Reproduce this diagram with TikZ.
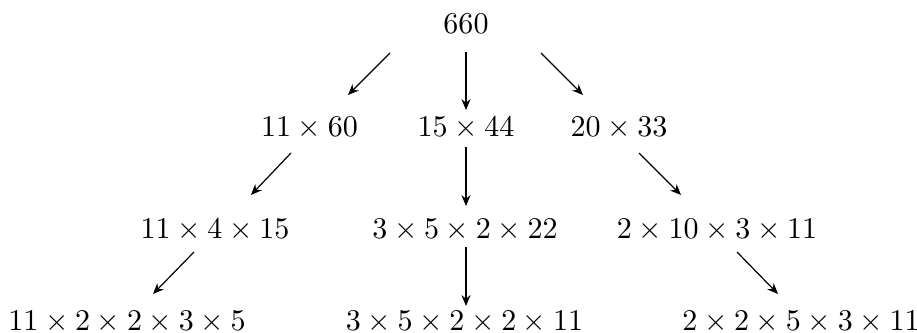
\documentclass[tikz,border=0pt]{standalone}
\usetikzlibrary{arrows.meta}
\begin{document}
\begin{tikzpicture}[x=0.3326pt,y=-0.3326pt,
  lbl/.style={anchor=base,inner sep=0pt,outer sep=0pt},
  arr/.style={-{Stealth[length=3.6pt,width=3pt]},line width=0.4pt}]
\useasboundingbox (0,0) rectangle (917,333);
\node[lbl] (n0) at (466,34) {$660$};
\node[lbl] (n1) at (309.5,137) {$11\times 60$};
\node[lbl] (n2) at (466,137) {$15\times 44$};
\node[lbl] (n3) at (619,137) {$20\times 33$};
\node[lbl] (n4) at (215,238) {$11\times 4\times 15$};
\node[lbl] (n5) at (465,238) {$3\times 5\times 2\times 22$};
\node[lbl] (n6) at (717,238) {$2\times 10\times 3\times 11$};
\node[lbl] (n7) at (127,330.5) {$11\times 2\times 2\times 3\times 5$};
\node[lbl] (n8) at (464.5,330.5) {$3\times 5\times 2\times 2\times 11$};
\node[lbl] (n9) at (801,330.5) {$2\times 2\times 5\times 3\times 11$};
% arrow end points
\coordinate (a1s) at (390,53);  \coordinate (a1e) at (348,95);
\coordinate (a2s) at (466,52);  \coordinate (a2e) at (466,110);
\coordinate (a3s) at (541,53);  \coordinate (a3e) at (583,95);
\coordinate (b1s) at (291,153); \coordinate (b1e) at (251,195);
\coordinate (b2s) at (466,147); \coordinate (b2e) at (466,206);
\coordinate (b3s) at (639,153); \coordinate (b3e) at (681,195);
\coordinate (c1s) at (194,252); \coordinate (c1e) at (153,294);
\coordinate (c2s) at (466,247); \coordinate (c2e) at (466,306);
\coordinate (c3s) at (737,252); \coordinate (c3e) at (778,294);
\foreach \s/\e in {a1s/a1e,a2s/a2e,a3s/a3e,b1s/b1e,b2s/b2e,b3s/b3e,c1s/c1e,c2s/c2e,c3s/c3e}
  \draw[arr] (\s) -- (\e);
\end{tikzpicture}
\end{document}
